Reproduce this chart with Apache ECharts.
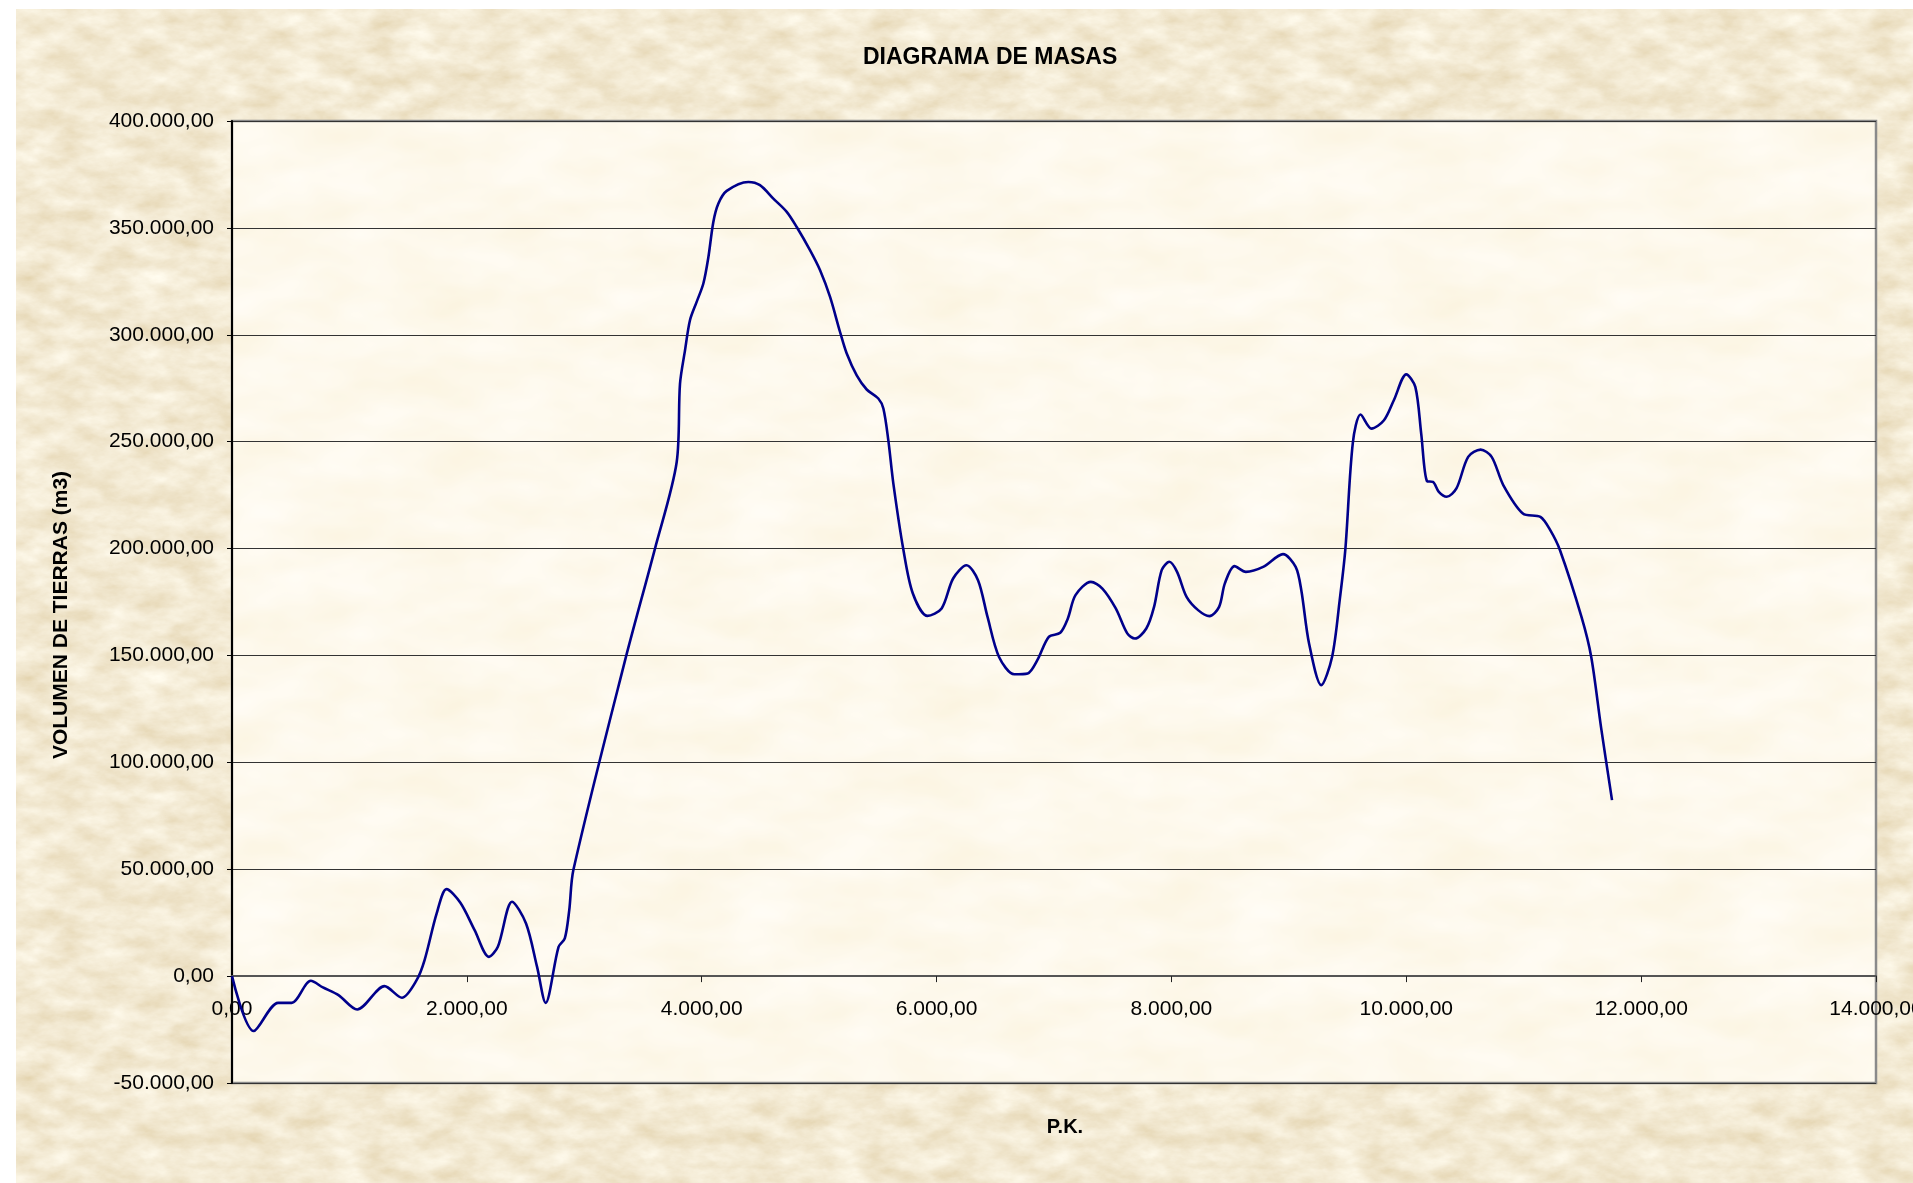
<!DOCTYPE html>
<html>
<head>
<meta charset="utf-8">
<script src="https://cdn.jsdelivr.net/npm/echarts@6/dist/echarts.min.js"></script>
<style>
  html, body { margin: 0; padding: 0; background: #ffffff; }
  #bg { position: absolute; left: 16px; top: 9px; width: 1897px; height: 1174px;
        background-color: #e4cf9f; }
  #plotbg { position: absolute; background-color: #fbf0d6; }
  #chart { position: absolute; left: 0; top: 0; width: 1913px; height: 1183px; }
</style>
</head>
<body>
<div id="bg"></div>
<div id="plotbg"></div>
<div id="chart"></div>
<script>
// ---- data ----
const pkValues = [
  0, 185, 393, 508, 671, 774, 907, 1066, 1299, 1447, 1572, 1640, 1743, 1827, 1945,
  2066, 2188, 2264, 2385, 2504, 2598, 2671, 2781, 2834, 2872, 2907, 3344, 3602, 3787,
  3815, 3858, 3900, 3957, 4014, 4057, 4099, 4142, 4213, 4397, 4496, 4610, 4724, 4809,
  4922, 5008, 5093, 5178, 5235, 5320, 5405, 5504, 5547, 5589, 5632, 5717, 5798, 5922,
  6043, 6141, 6255, 6353, 6434, 6532, 6662, 6776, 6858, 6956, 7053, 7118, 7183, 7314,
  7412, 7526, 7624, 7689, 7786, 7852, 7917, 7982, 8048, 8129, 8227, 8324, 8406, 8455,
  8537, 8634, 8781, 8950, 9058, 9106, 9172, 9276, 9368, 9433, 9481, 9545, 9611, 9704,
  9810, 9894, 10000, 10077, 10127, 10177, 10227, 10277, 10344, 10427, 10527, 10633,
  10727, 10827, 10993, 11142, 11226, 11309, 11492, 11575, 11658, 11752
];
const volumeValues = [
  0, -25700, -12500, -12500, -2200, -5300, -8900, -15600, -4700, -10100, -1900, 7500, 29300, 40700, 34300,
  21500, 9000, 13700, 34800, 24600, 4300, -12500, 13700, 17600, 30900, 49600, 147000, 200000, 240500,
  277000, 292800, 306800, 315400, 324000, 336400, 352800, 361400, 367300, 371500, 370000, 363700, 357500, 350400,
  339600, 330200, 317700, 301300, 291200, 281000, 274400, 270200, 265500, 250700, 230400, 199600, 179000, 168500,
  172000, 186000, 192200, 185200, 168000, 149300, 141200, 141600, 147800, 158700, 160600, 167300, 178200, 184400,
  181300, 172000, 160300, 157900, 162600, 172700, 189900, 193800, 189100, 177400, 171200, 168400, 172700, 183700,
  191800, 189100, 191400, 197400, 191400, 180500, 155600, 136100, 149300, 175900, 199600, 249600, 262700, 256100,
  260000, 269400, 281500, 275600, 253800, 231500, 231200, 226500, 224200, 228100, 242900, 246300,
  242900, 229600, 216400, 214800, 208600, 199200, 168000, 149300, 116600, 82300
];
const xAxisRange = [0, 14000];      // min, max
const xAxisStep = 2000;
const yAxisRange = [-50000, 400000];
const yAxisStep = 50000;
const titleText = 'DIAGRAMA DE MASAS';
const xAxisTitle = 'P.K.';
const yAxisTitle = 'VOLUMEN DE TIERRAS (m3)';

// ---- layout ----
const W = 1913, H = 1183;
const gridRect = { left: 232, top: 121, right: 37, bottom: 100 };
const plotH = H - gridRect.top - gridRect.bottom;
// distance of the zero line above the plot bottom, in pixels
const zeroOffset = plotH * (0 - yAxisRange[0]) / (yAxisRange[1] - yAxisRange[0]);
const FONT = "'Liberation Sans', Arial, Helvetica, sans-serif";

function noiseBg(dark, light, freq, seed, oct) {
  const s = (c) => c / 255;
  const k = 0.4, o = 0.3;
  const rows = [0,1,2].map(i => {
    const slope = (s(light[i]) - s(dark[i])) / k;
    const icpt = s(dark[i]) - slope * o;
    return slope.toFixed(4) + ' 0 0 0 ' + icpt.toFixed(4);
  });
  const mat = rows.join(' ') + ' 0 0 0 0 1';
  const svg = "<svg xmlns='http://www.w3.org/2000/svg' width='500' height='400'>" +
    "<filter id='n' x='0' y='0' width='100%' height='100%'><feTurbulence type='fractalNoise' baseFrequency='" + freq +
    "' numOctaves='" + oct + "' seed='" + seed + "' stitchTiles='stitch'/>" +
    "<feColorMatrix type='matrix' values='" + mat + "'/></filter>" +
    "<rect width='100%' height='100%' filter='url(#n)'/></svg>";
  return "url(\"data:image/svg+xml;utf8," + encodeURIComponent(svg) + "\")";
}
document.getElementById('bg').style.backgroundImage = noiseBg([214,190,140],[242,228,192],'0.025 0.05',7,5);
const pb = document.getElementById('plotbg');
pb.style.left = gridRect.left + 'px';
pb.style.top = gridRect.top + 'px';
pb.style.width = (W - gridRect.left - gridRect.right) + 'px';
pb.style.height = plotH + 'px';
pb.style.backgroundImage = noiseBg([249,236,203],[254,245,224],'0.012 0.025',11,3);

function fmtEs(v) {
  const neg = v < 0;
  const parts = Math.abs(v).toFixed(2).split('.');
  const intPart = parts[0].replace(/\B(?=(\d{3})+(?!\d))/g, '.');
  return (neg ? '-' : '') + intPart + ',' + parts[1];
}

const seriesData = pkValues.map((x, i) => [x, volumeValues[i]]);

const chart = echarts.init(document.getElementById('chart'), null, { renderer: 'canvas' });
chart.setOption({
  backgroundColor: 'transparent',
  animation: false,
  title: {
    text: titleText,
    left: 858, top: 41,
    textStyle: { fontFamily: FONT, fontSize: 23, fontWeight: 'bold', color: '#000' }
  },
  grid: {
    left: gridRect.left, top: gridRect.top, right: gridRect.right, bottom: gridRect.bottom,
    containLabel: false, outerBoundsMode: 'none',
    show: true, backgroundColor: 'transparent', borderColor: '#8a8a8a', borderWidth: 2.5
  },
  xAxis: {
    type: 'value',
    position: 'bottom',
    offset: -zeroOffset,
    min: xAxisRange[0], max: xAxisRange[1], interval: xAxisStep,
    name: xAxisTitle, nameLocation: 'middle', nameGap: 141,
    nameTextStyle: { fontFamily: FONT, fontSize: 20, fontWeight: 'bold', color: '#000', padding: [0, 0, 0, 22] },
    axisLine: { onZero: false, lineStyle: { color: '#555', width: 2 } },
    axisTick: { show: true, inside: false, length: 6, lineStyle: { color: '#222', width: 1 } },
    axisLabel: { fontFamily: FONT, fontSize: 21, color: '#000', margin: 23, formatter: fmtEs, showMaxLabel: true },
    splitLine: { show: false }
  },
  yAxis: {
    type: 'value',
    min: yAxisRange[0], max: yAxisRange[1], interval: yAxisStep,
    name: yAxisTitle, nameLocation: 'middle', nameGap: 160,
    nameTextStyle: { fontFamily: FONT, fontSize: 21, fontWeight: 'bold', color: '#000', padding: [0, 26, 0, 0] },
    axisLine: { show: true, lineStyle: { color: '#000', width: 2 } },
    axisTick: { show: true, inside: false, length: 5, lineStyle: { color: '#000', width: 1 } },
    axisLabel: { fontFamily: FONT, fontSize: 21, color: '#000', margin: 18, formatter: fmtEs },
    splitLine: { show: true, lineStyle: { color: '#333', width: 1.2 } }
  },
  series: [{
    type: 'line',
    data: seriesData,
    smooth: 0.3,
    showSymbol: false,
    lineStyle: { color: '#00008b', width: 2.6 },
    z: 5
  }]
});
</script>
</body>
</html>
